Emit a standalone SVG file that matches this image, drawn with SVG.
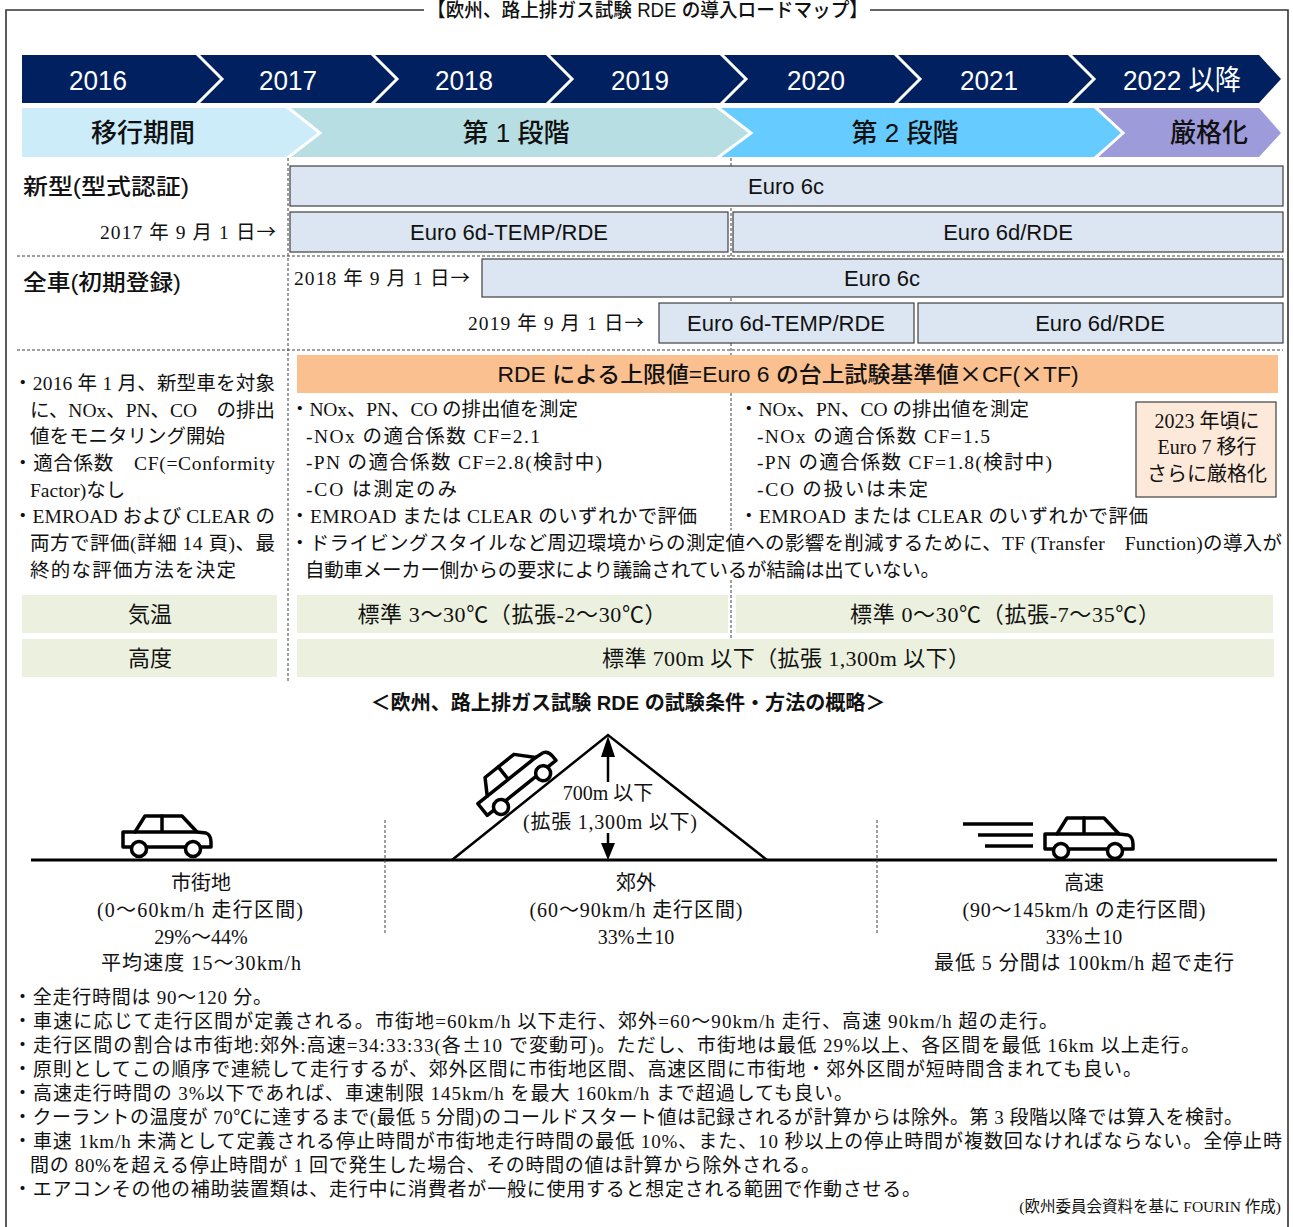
<svg xmlns="http://www.w3.org/2000/svg" width="1293" height="1227" viewBox="0 0 1293 1227">
<defs>
<style>
.g{font-family:"Liberation Sans","Noto Sans CJK JP",sans-serif;}
.m{font-family:"Liberation Serif","Noto Sans CJK JP",serif;}
.j{font-family:"Noto Sans CJK JP",sans-serif;}
.yr{fill:#fff;font-size:28px;text-anchor:middle;}
.ph{font-size:26px;text-anchor:middle;fill:#111;font-weight:500;}
.eu{fill:#DCE6F2;stroke:#404040;stroke-width:1.2;}
.el{font-size:22px;text-anchor:middle;fill:#111;}
.hd{font-size:22px;fill:#111;font-weight:500;}
.dash{stroke:#404040;stroke-width:1;stroke-dasharray:3 2;fill:none;}
.b{font-size:19.5px;fill:#111;}
.r{font-size:19px;fill:#111;}
.c{text-anchor:middle;}
.e{text-anchor:end;}
.gr{fill:#EBF1DE;}
.gt{font-size:22px;fill:#111;text-anchor:middle;}
.lb{font-size:20px;fill:#111;text-anchor:middle;}
.chev{fill:none;stroke:#fff;stroke-width:3;}
.carb{fill:#fff;stroke:#000;stroke-width:3.5;stroke-linejoin:round;stroke-linecap:round;}
</style>
<g id="carIcon">
<path class="carb" d="M2,18 L14,18 L24,2 L61,2 L76,18 L85,19 Q90,21 90,28 L90,33 L2,33 Z"/>
<path class="carb" d="M14,18 L76,18 M41,2 L41,18"/>
<circle class="carb" cx="18" cy="35" r="7.5"/>
<circle class="carb" cx="72" cy="35" r="7.5"/>
</g>
</defs>

<rect width="1293" height="1227" fill="#fff"/>

<!-- outer frame with title gap -->
<g id="frame" fill="none" stroke="#333" stroke-width="1.6">
<polyline points="424,10 6,10 6,1227"/>
<polyline points="870,10 1288,10 1288,1227"/>
</g>
<text id="title" class="g" x="427" y="17" font-size="19.5" font-weight="500" fill="#111" textLength="441" lengthAdjust="spacingAndGlyphs">【欧州、路上排ガス試験 RDE の導入ロードマップ】</text>

<!-- year timeline -->
<g id="years">
<polygon points="22,55 1259,55 1281,79 1259,103 22,103" fill="#002060"/>
<polyline class="chev" points="196,53 222,79 196,105"/>
<polyline class="chev" points="371,53 397,79 371,105"/>
<polyline class="chev" points="546,53 572,79 546,105"/>
<polyline class="chev" points="720,53 746,79 720,105"/>
<polyline class="chev" points="894,53 920,79 894,105"/>
<polyline class="chev" points="1068,53 1094,79 1068,105"/>
<g class="g yr">
<text x="98" y="90" textLength="58" lengthAdjust="spacingAndGlyphs">2016</text>
<text x="288" y="90" textLength="58" lengthAdjust="spacingAndGlyphs">2017</text>
<text x="464" y="90" textLength="58" lengthAdjust="spacingAndGlyphs">2018</text>
<text x="640" y="90" textLength="58" lengthAdjust="spacingAndGlyphs">2019</text>
<text x="816" y="90" textLength="58" lengthAdjust="spacingAndGlyphs">2020</text>
<text x="989" y="90" textLength="58" lengthAdjust="spacingAndGlyphs">2021</text>
<text x="1182" y="90" textLength="118" lengthAdjust="spacingAndGlyphs">2022 以降</text>
</g>
</g>

<!-- phases -->
<g id="phases">
<polygon points="1094,108 1259,108 1281,133 1259,157 1094,157 1123,133" fill="#9E9BDB"/>
<polygon points="716,108 1094,108 1123,133 1094,157 716,157 751,133" fill="#66CCFF"/>
<polygon points="286,108 716,108 751,133 716,157 286,157 320,133" fill="#B7DEE3"/>
<polygon points="22,108 286,108 320,133 286,157 22,157" fill="#CCECFA"/>
<polyline class="chev" points="286,106 320,133 286,159"/>
<polyline class="chev" points="716,106 751,133 716,159"/>
<polyline class="chev" points="1094,106 1123,133 1094,159"/>
<g class="g ph">
<text x="143" y="142">移行期間</text>
<text x="516" y="142">第 1 段階</text>
<text x="905" y="142">第 2 段階</text>
<text x="1209" y="142">厳格化</text>
</g>
</g>

<!-- table grid -->
<g id="grid" class="dash">
<line x1="288" y1="158" x2="288" y2="682"/>
<line x1="731" y1="158" x2="731" y2="530"/>
<line x1="731" y1="580" x2="731" y2="640"/>
<line x1="17" y1="256" x2="1283" y2="256"/>
<line x1="17" y1="350" x2="1283" y2="350"/>
</g>

<!-- standards per registration type -->
<g id="standards">
<text class="g hd" x="23" y="194" textLength="166" lengthAdjust="spacingAndGlyphs">新型(型式認証)</text>
<text class="g hd" x="23" y="290" textLength="158" lengthAdjust="spacingAndGlyphs">全車(初期登録)</text>
<text class="m" x="276" y="239" font-size="19.5" fill="#111" text-anchor="end" textLength="176">2017 年 9 月 1 日<tspan class="j">→</tspan></text>
<text class="m" x="294" y="285" font-size="19.5" fill="#111" textLength="176">2018 年 9 月 1 日<tspan class="j">→</tspan></text>
<text class="m" x="644" y="330" font-size="19.5" fill="#111" text-anchor="end" textLength="176">2019 年 9 月 1 日<tspan class="j">→</tspan></text>

<g id="new-euro6c"><rect class="eu" x="290" y="166" width="993" height="40"/><text class="g el" x="786" y="194">Euro 6c</text></g>
<g id="new-euro6dtemp"><rect class="eu" x="290" y="212" width="438" height="40"/><text class="g el" x="509" y="240">Euro 6d-TEMP/RDE</text></g>
<g id="new-euro6d"><rect class="eu" x="733" y="212" width="550" height="40"/><text class="g el" x="1008" y="240">Euro 6d/RDE</text></g>
<g id="all-euro6c"><rect class="eu" x="482" y="259" width="801" height="38"/><text class="g el" x="882" y="286">Euro 6c</text></g>
<g id="all-euro6dtemp"><rect class="eu" x="659" y="303" width="255" height="40"/><text class="g el" x="786" y="331">Euro 6d-TEMP/RDE</text></g>
<g id="all-euro6d"><rect class="eu" x="918" y="303" width="365" height="40"/><text class="g el" x="1100" y="331">Euro 6d/RDE</text></g>
</g>

<!-- limit formula band -->
<g id="formula">
<rect x="297" y="355" width="981" height="38" fill="#FAC090"/>
<text class="g" x="788" y="382" font-size="22" font-weight="500" fill="#111" text-anchor="middle" textLength="581" lengthAdjust="spacingAndGlyphs">RDE による上限値=Euro 6 の台上試験基準値<tspan class="j">×</tspan>CF(<tspan class="j">×</tspan>TF)</text>
</g>

<!-- transition period notes -->
<g id="notes-transition" class="m b">
<text x="13" y="390" textLength="262">・2016 年 1 月、新型車を対象</text>
<text x="30" y="417" textLength="245">に、NOx、PN、CO　の排出</text>
<text x="30" y="443">値をモニタリング開始</text>
<text x="13" y="470" textLength="262">・適合係数　CF(=Conformity</text>
<text x="30" y="497">Factor)なし</text>
<text x="13" y="523" textLength="262">・EMROAD および CLEAR の</text>
<text x="30" y="550" textLength="245">両方で評価(詳細 14 頁)、最</text>
<text x="30" y="577" textLength="206">終的な評価方法を決定</text>
</g>

<!-- stage 1 notes -->
<g id="notes-stage1" class="m b">
<text x="290" y="416" textLength="288">・NOx、PN、CO の排出値を測定</text>
<text x="306" y="443" textLength="234">-NOx の適合係数 CF=2.1</text>
<text x="306" y="469" textLength="296">-PN の適合係数 CF=2.8(検討中)</text>
<text x="306" y="496" textLength="151">-CO は測定のみ</text>
<text x="290" y="523" textLength="407">・EMROAD または CLEAR のいずれかで評価</text>
<text x="290" y="550" textLength="992">・ドライビングスタイルなど周辺環境からの測定値への影響を削減するために、TF (Transfer　Function)の導入が</text>
<text x="305" y="577" textLength="635">自動車メーカー側からの要求により議論されているが結論は出ていない。</text>
</g>

<!-- stage 2 notes -->
<g id="notes-stage2" class="m b">
<text x="739" y="416" textLength="290">・NOx、PN、CO の排出値を測定</text>
<text x="757" y="443" textLength="233">-NOx の適合係数 CF=1.5</text>
<text x="757" y="469" textLength="295">-PN の適合係数 CF=1.8(検討中)</text>
<text x="757" y="496" textLength="171">-CO の扱いは未定</text>
<text x="739" y="523" textLength="409">・EMROAD または CLEAR のいずれかで評価</text>
</g>

<g id="euro7">
<rect x="1136" y="402" width="140" height="95" fill="#FDE9D9" stroke="#404040" stroke-width="1.2"/>
<g class="m lb">
<text x="1207" y="428">2023 年頃に</text>
<text x="1207" y="454">Euro 7 移行</text>
<text x="1207" y="481">さらに厳格化</text>
</g>
</g>

<!-- test conditions -->
<g id="conditions">
<rect class="gr" x="22" y="595" width="255" height="38"/>
<rect class="gr" x="22" y="639" width="255" height="38"/>
<rect class="gr" x="297" y="595" width="431" height="38"/>
<rect class="gr" x="736" y="595" width="537" height="38"/>
<rect class="gr" x="297" y="639" width="977" height="38"/>
<g class="m gt">
<text x="150" y="622">気温</text>
<text x="150" y="666">高度</text>
<text x="512" y="622" textLength="309">標準 3～30℃（拡張-2～30℃）</text>
<text x="1005" y="622" textLength="310">標準 0～30℃（拡張-7～35℃）</text>
<text x="786" y="666" textLength="368">標準 700m 以下（拡張 1,300m 以下）</text>
</g>
</g>

<!-- route overview -->
<text id="route-title" class="g" x="628" y="710" font-size="20" font-weight="700" fill="#111" text-anchor="middle" textLength="515" lengthAdjust="spacingAndGlyphs">＜欧州、路上排ガス試験 RDE の試験条件・方法の概略＞</text>

<g id="route">
<line x1="31" y1="860" x2="1277" y2="860" stroke="#000" stroke-width="3"/>
<polyline points="452,860 608,735 767,860" fill="none" stroke="#000" stroke-width="2.5" stroke-linejoin="miter"/>
<g class="dash">
<line x1="385" y1="820" x2="385" y2="934"/>
<line x1="877" y1="820" x2="877" y2="934"/>
</g>
<!-- altitude arrow -->
<g stroke="#000" stroke-width="2.5">
<line x1="608" y1="755" x2="608" y2="782"/>
<line x1="608" y1="833" x2="608" y2="845"/>
</g>
<polygon points="608,736 601,757 615,757" fill="#000"/>
<polygon points="601,843 615,843 608,860" fill="#000"/>
<g class="m lb">
<text x="608" y="800">700m 以下</text>
<text x="610" y="829" textLength="174">(拡張 1,300m 以下)</text>
</g>
</g>

<g id="car-urban"><use href="#carIcon" transform="translate(121,814)"/></g>
<g id="car-rural"><use href="#carIcon" transform="translate(501,807) rotate(-38.7) translate(-18,-35)"/></g>
<g id="car-motorway">
<g stroke="#000" stroke-width="3.5">
<line x1="963" y1="824" x2="1033" y2="824"/>
<line x1="978" y1="835" x2="1033" y2="835"/>
<line x1="985" y1="846" x2="1033" y2="846"/>
</g>
<use href="#carIcon" transform="translate(1043,816)"/>
</g>

<g id="labels-urban" class="m lb">
<text x="201" y="890">市街地</text>
<text x="200" y="917" textLength="206">(0～60km/h 走行区間)</text>
<text x="201" y="944">29%～44%</text>
<text x="201" y="970" textLength="200">平均速度 15～30km/h</text>
</g>
<g id="labels-rural" class="m lb">
<text x="636" y="890">郊外</text>
<text x="636" y="917" textLength="213">(60～90km/h 走行区間)</text>
<text x="636" y="944">33%<tspan class="j">±</tspan>10</text>
</g>
<g id="labels-motorway" class="m lb">
<text x="1084" y="890">高速</text>
<text x="1084" y="917" textLength="243">(90～145km/h の走行区間)</text>
<text x="1084" y="944">33%<tspan class="j">±</tspan>10</text>
<text x="1084" y="970" textLength="300">最低 5 分間は 100km/h 超で走行</text>
</g>

<!-- general rules -->
<g id="rules" class="m r">
<text x="13" y="1004" textLength="259">・全走行時間は 90～120 分。</text>
<text x="13" y="1028" textLength="1045">・車速に応じて走行区間が定義される。市街地=60km/h 以下走行、郊外=60～90km/h 走行、高速 90km/h 超の走行。</text>
<text x="13" y="1052" textLength="1187">・走行区間の割合は市街地:郊外:高速=34:33:33(各<tspan class="j">±</tspan>10 で変動可)。ただし、市街地は最低 29%以上、各区間を最低 16km 以上走行。</text>
<text x="13" y="1076" textLength="1129">・原則としてこの順序で連続して走行するが、郊外区間に市街地区間、高速区間に市街地・郊外区間が短時間含まれても良い。</text>
<text x="13" y="1100" textLength="840">・高速走行時間の 3%以下であれば、車速制限 145km/h を最大 160km/h まで超過しても良い。</text>
<text x="13" y="1124" textLength="1230">・クーラントの温度が 70℃に達するまで(最低 5 分間)のコールドスタート値は記録されるが計算からは除外。第 3 段階以降では算入を検討。</text>
<text x="13" y="1148" textLength="1269">・車速 1km/h 未満として定義される停止時間が市街地走行時間の最低 10%、また、10 秒以上の停止時間が複数回なければならない。全停止時</text>
<text x="30" y="1172" textLength="790">間の 80%を超える停止時間が 1 回で発生した場合、その時間の値は計算から除外される。</text>
<text x="13" y="1196" textLength="908">・エアコンその他の補助装置類は、走行中に消費者が一般に使用すると想定される範囲で作動させる。</text>
</g>

<text id="source" class="m" x="1281" y="1212" font-size="15.5" fill="#111" text-anchor="end">(欧州委員会資料を基に FOURIN 作成)</text>
</svg>
